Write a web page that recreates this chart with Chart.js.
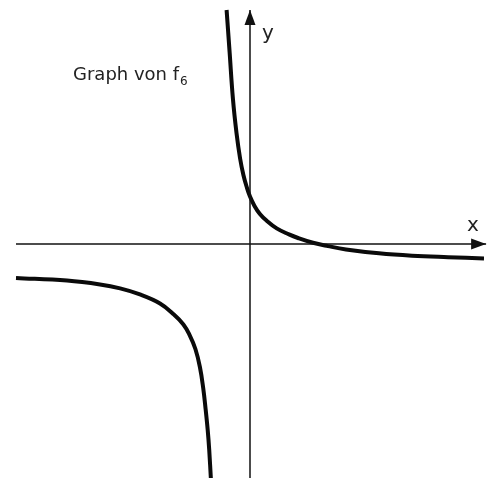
<!DOCTYPE html>
<html>
<head>
<meta charset="utf-8">
<script src="https://cdn.jsdelivr.net/npm/chart.js@4/dist/chart.umd.min.js"></script>
<style>
  html, body { margin: 0; padding: 0; background: #fff; }
  canvas { display: block; }
</style>
</head>
<body>
<canvas id="canvas" width="488" height="478"></canvas>
<script>
// values (1 unit = 30 px)
var rightX = [-0.78, -0.68, -0.57, -0.45, -0.33, -0.22, -0.11, 0, 0.15, 0.33, 0.55, 0.89, 1.3, 1.6, 2.1, 2.6, 3.2, 4.3, 5.4, 6.6, 7.8];
var rightY = [7.8, 6.4, 4.85, 3.7, 2.85, 2.3, 1.9, 1.58, 1.27, 1.0, 0.78, 0.52, 0.32, 0.2, 0.04, -0.07, -0.18, -0.31, -0.39, -0.44, -0.48];
var leftX = [-7.8, -6.1, -5.0, -4.33, -3.67, -3.0, -2.56, -2.22, -2.02, -1.82, -1.67, -1.56, -1.48, -1.41, -1.36, -1.3];
var leftY = [-1.13, -1.22, -1.35, -1.48, -1.68, -1.98, -2.33, -2.68, -3.02, -3.5, -4.1, -4.8, -5.5, -6.2, -6.85, -7.9];
var xAxisEnds = [-7.8, 7.87];
var yAxisEnds = [-7.9, 7.8];

function pts(xs, ys) {
  var out = [];
  for (var i = 0; i < xs.length; i++) out.push({x: xs[i], y: ys[i]});
  return out;
}

var axisPlugin = {
  id: 'axisDeco',
  afterDatasetsDraw: function(chart) {
    var ctx = chart.ctx;
    var xs = chart.scales.x, ys = chart.scales.y;
    var ox = xs.getPixelForValue(0), oy = ys.getPixelForValue(0);
    var xt = xs.getPixelForValue(xAxisEnds[1]);
    var yt = ys.getPixelForValue(yAxisEnds[1]);
    ctx.save();
    ctx.fillStyle = '#111';
    // x arrow
    ctx.beginPath();
    ctx.moveTo(xt, oy);
    ctx.lineTo(xt - 15, oy - 5.5);
    ctx.lineTo(xt - 15, oy + 5.5);
    ctx.closePath();
    ctx.fill();
    // y arrow
    ctx.beginPath();
    ctx.moveTo(ox, yt);
    ctx.lineTo(ox - 5.5, yt + 15);
    ctx.lineTo(ox + 5.5, yt + 15);
    ctx.closePath();
    ctx.fill();
    // labels
    ctx.fillStyle = '#222';
    ctx.textBaseline = 'alphabetic';
    ctx.font = '20px "DejaVu Sans"';
    ctx.fillText('y', ox + 12, yt + 29);
    ctx.fillText('x', xt - 19, oy - 13);
    ctx.font = '18px "DejaVu Sans"';
    ctx.fillText('Graph von f', 73, 80);
    var w = ctx.measureText('Graph von f').width;
    ctx.font = '12px "DejaVu Sans"';
    ctx.fillText('6', 73 + w + 1, 85);
    ctx.restore();
  }
};

window.onload = function() {
  var ctx = document.getElementById('canvas').getContext('2d');
  window.myChart = new Chart(ctx, {
    type: 'scatter',
    data: {
      datasets: [{
        label: 'x-Achse',
        data: pts(xAxisEnds, [0, 0]),
        showLine: true,
        borderColor: '#111',
        borderWidth: 1.5,
        pointRadius: 0
      }, {
        label: 'y-Achse',
        data: pts([0, 0], yAxisEnds),
        showLine: true,
        borderColor: '#111',
        borderWidth: 1.5,
        pointRadius: 0
      }, {
        label: 'f6 rechts',
        data: pts(rightX, rightY),
        showLine: true,
        borderColor: '#0a0a0a',
        borderWidth: 4,
        pointRadius: 0,
        tension: 0.4
      }, {
        label: 'f6 links',
        data: pts(leftX, leftY),
        showLine: true,
        borderColor: '#0a0a0a',
        borderWidth: 4,
        pointRadius: 0,
        tension: 0.4
      }]
    },
    options: {
      responsive: false,
      animation: false,
      layout: { padding: 0 },
      plugins: {
        legend: { display: false },
        tooltip: { enabled: false }
      },
      scales: {
        x: { type: 'linear', min: -250 / 30, max: 238 / 30, display: false },
        y: { type: 'linear', min: -234 / 30, max: 244 / 30, display: false }
      }
    },
    plugins: [axisPlugin]
  });
};
</script>
</body>
</html>
